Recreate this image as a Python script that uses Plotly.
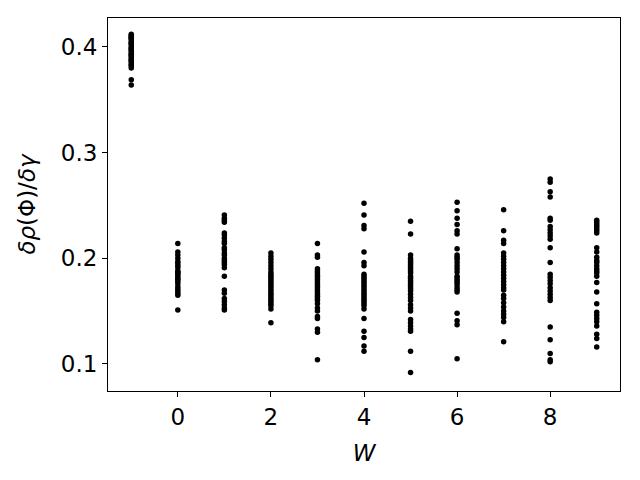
import plotly.graph_objects as go

w_m1 = [0.412, 0.411, 0.410, 0.409, 0.408, 0.407, 0.405, 0.404, 0.403, 0.402, 0.400, 0.399,
        0.398, 0.397, 0.396, 0.394, 0.393, 0.392, 0.391, 0.389, 0.388, 0.387, 0.386, 0.384,
        0.383, 0.382, 0.380, 0.369, 0.364]
w_0 = [0.214, 0.206, 0.203, 0.200, 0.197, 0.195, 0.193, 0.191, 0.188, 0.187, 0.186, 0.185,
       0.183, 0.181, 0.180, 0.178, 0.176, 0.173, 0.171, 0.169, 0.167, 0.165, 0.151]
w_1 = [0.241, 0.238, 0.236, 0.234, 0.224, 0.222, 0.219, 0.216, 0.214, 0.210, 0.208, 0.205,
       0.203, 0.200, 0.198, 0.196, 0.194, 0.191, 0.183, 0.170, 0.167, 0.162, 0.159, 0.156,
       0.153, 0.151]
w_2 = [0.205, 0.202, 0.199, 0.196, 0.193, 0.190, 0.187, 0.185, 0.183, 0.181, 0.179, 0.177,
       0.175, 0.173, 0.171, 0.169, 0.167, 0.165, 0.163, 0.161, 0.159, 0.157, 0.155, 0.152,
       0.139]
w_3 = [0.214, 0.203, 0.201, 0.190, 0.188, 0.186, 0.184, 0.182, 0.180, 0.178, 0.176, 0.174,
       0.172, 0.170, 0.168, 0.166, 0.164, 0.162, 0.160, 0.157, 0.153, 0.150, 0.145, 0.143,
       0.133, 0.130, 0.104]
w_4 = [0.252, 0.241, 0.231, 0.228, 0.206, 0.196, 0.193, 0.185, 0.183, 0.181, 0.179, 0.177,
       0.175, 0.173, 0.171, 0.169, 0.167, 0.165, 0.163, 0.161, 0.159, 0.157, 0.155, 0.152,
       0.143, 0.131, 0.125, 0.117, 0.112]
w_5 = [0.235, 0.223, 0.203, 0.200, 0.198, 0.196, 0.194, 0.192, 0.190, 0.188, 0.186, 0.183,
       0.181, 0.179, 0.177, 0.175, 0.173, 0.171, 0.169, 0.166, 0.163, 0.160, 0.156, 0.153,
       0.150, 0.142, 0.139, 0.136, 0.133, 0.131, 0.112, 0.092]
w_6 = [0.253, 0.245, 0.238, 0.232, 0.226, 0.223, 0.209, 0.203, 0.201, 0.199, 0.196, 0.193,
       0.190, 0.187, 0.183, 0.181, 0.179, 0.177, 0.175, 0.172, 0.170, 0.168, 0.148, 0.141,
       0.137, 0.105]
w_7 = [0.246, 0.226, 0.217, 0.214, 0.205, 0.202, 0.199, 0.196, 0.193, 0.190, 0.187, 0.184,
       0.181, 0.178, 0.175, 0.172, 0.170, 0.165, 0.162, 0.158, 0.154, 0.150, 0.147, 0.144,
       0.140, 0.121]
w_8 = [0.275, 0.272, 0.263, 0.258, 0.238, 0.236, 0.230, 0.227, 0.224, 0.221, 0.218, 0.210,
       0.196, 0.185, 0.182, 0.179, 0.176, 0.172, 0.169, 0.166, 0.163, 0.160, 0.135, 0.123,
       0.110, 0.104, 0.102]
w_9 = [0.236, 0.234, 0.232, 0.230, 0.228, 0.226, 0.224, 0.210, 0.206, 0.201, 0.198, 0.196,
       0.193, 0.190, 0.188, 0.186, 0.183, 0.177, 0.168, 0.157, 0.149, 0.146, 0.143, 0.140,
       0.136, 0.128, 0.124, 0.116]

w_values = [-1, 0, 1, 2, 3, 4, 5, 6, 7, 8, 9]
series = [w_m1, w_0, w_1, w_2, w_3, w_4, w_5, w_6, w_7, w_8, w_9]

xs, ys = [], []
for w, vals in zip(w_values, series):
    xs.extend([w] * len(vals))
    ys.extend(vals)

x_ticks = [0, 2, 4, 6, 8]
y_ticks = [0.1, 0.2, 0.3, 0.4]

fig = go.Figure(go.Scatter(
    x=xs, y=ys, mode="markers",
    marker=dict(color="black", size=5.5, line=dict(width=0)),
    showlegend=False,
))

font = "DejaVu Sans, sans-serif"
axis_common = dict(
    showline=True, linecolor="black", linewidth=1, mirror=True,
    ticks="outside", ticklen=5, tickwidth=1, tickcolor="black",
    showgrid=False, zeroline=False, automargin=False,
    tickfont=dict(family=font, size=23, color="black"),
)

# page body has an 8px default margin, so the figure is sized to fit inside 640x480
fig.update_layout(
    width=632, height=472,
    margin=dict(l=100, r=20, t=10, b=89),
    paper_bgcolor="white", plot_bgcolor="white",
    xaxis=dict(range=[-1.5, 9.5], tickvals=x_ticks, ticktext=[str(t) for t in x_ticks],
               title=dict(text="<i>W</i>", font=dict(family=font, size=23, color="black"),
                          standoff=16),
               **axis_common),
    yaxis=dict(range=[0.0744, 0.4274], tickvals=y_ticks, ticktext=["0.1", "0.2", "0.3", "0.4"],
               title=dict(text="<i>δρ</i>(Φ)/<i>δγ</i>",
                          font=dict(family=font, size=23, color="black"), standoff=18),
               **axis_common),
)

fig.write_html("out.html")
